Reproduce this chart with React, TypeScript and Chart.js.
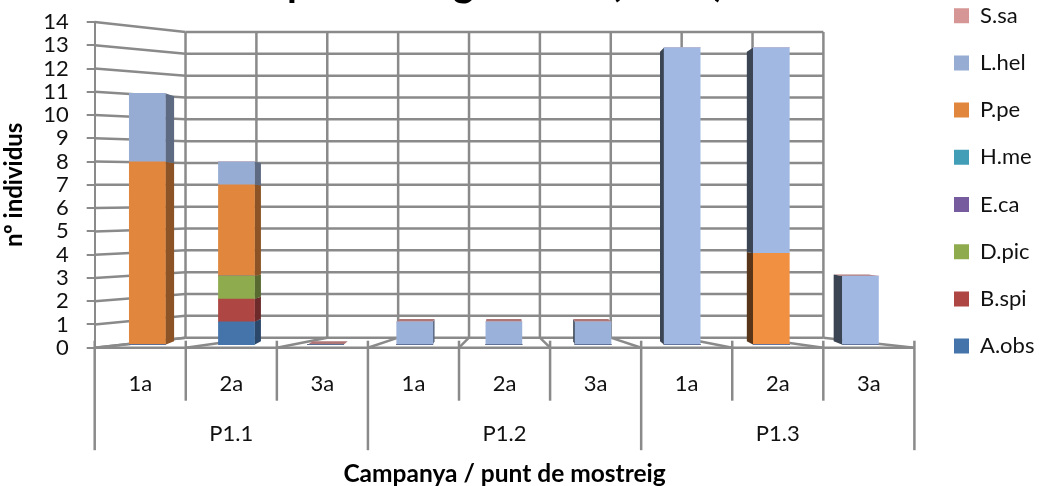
import React, { useEffect, useRef } from "react";
import { Chart, registerables } from "chart.js";

Chart.register(...registerables);

const CAMPAIGNS = ["1a", "2a", "3a", "1a", "2a", "3a", "1a", "2a", "3a"];
const SITES = ["P1.1", "P1.2", "P1.3"];
const SPECIES = ["A.obs", "B.spi", "D.pic", "E.ca", "H.me", "P.pe", "L.hel", "S.sa"];
const A_OBS = [0, 1, 0, 0, 0, 0, 0, 0, 0];
const B_SPI = [0, 1, 0, 0, 0, 0, 0, 0, 0];
const D_PIC = [0, 1, 0, 0, 0, 0, 0, 0, 0];
const E_CA = [0, 0, 0, 0, 0, 0, 0, 0, 0];
const H_ME = [0, 0, 0, 0, 0, 0, 0, 0, 0];
const P_PE = [8, 4, 0, 0, 0, 0, 0, 4, 0];
const L_HEL = [3, 1, 0, 1, 1, 1, 13, 9, 3];
const S_SA = [0, 0, 0, 0, 0, 0, 0, 0, 0];
const SERIES = [A_OBS, B_SPI, D_PIC, E_CA, H_ME, P_PE, L_HEL, S_SA];
const COLORS = ["#4472A8", "#AB4542", "#8BA84C", "#745A9C", "#419BB2", "#DD843C", "#93A9CF", "#D19392"];
const SITE_TINT = [1.02, 1.05, 1.09];

const GRID = "#8A8A8A";
const TEXT = "#111111";
const FONT = "Lato, sans-serif";

// Vanishing point and depth of the oblique projection used for the 3D look.
const VANISH_X = 504;
const VANISH_Y = 209;
const DEPTH = 0.026;

function shade(hex: string, f: number) {
  const n = parseInt(hex.slice(1), 16);
  const c = (v: number) => Math.min(255, Math.round(v * f));
  return `rgb(${c((n >> 16) & 255)},${c((n >> 8) & 255)},${c(n & 255)})`;
}

function project(x: number, y: number): [number, number] {
  return [x + (VANISH_X - x) * DEPTH, y + (VANISH_Y - y) * DEPTH];
}

function poly(ctx: CanvasRenderingContext2D, pts: [number, number][], fill: string) {
  ctx.fillStyle = fill;
  ctx.beginPath();
  pts.forEach(([x, y], i) => (i ? ctx.lineTo(x, y) : ctx.moveTo(x, y)));
  ctx.closePath();
  ctx.fill();
}

function line(ctx: CanvasRenderingContext2D, x1: number, y1: number, x2: number, y2: number) {
  ctx.beginPath();
  ctx.moveTo(x1, y1);
  ctx.lineTo(x2, y2);
  ctx.stroke();
}

const wallsAndDepth = {
  id: "wallsAndDepth",
  afterLayout(chart: any) {
    // The key sits higher and further right than the layout box would place it.
    const legend = chart.legend;
    const pad = legend.options.labels.padding;
    legend.left = 954 - pad;
    legend.right = chart.width;
    legend.top = 15.7 - 11 - pad;
    legend.bottom = chart.height;
    legend.adjustHitBoxes();
  },
  beforeDatasetsDraw(chart: any) {
    const { ctx, scales } = chart;
    const { xFront, xGroup, yFront, xBack, yBack } = scales;
    ctx.save();
    ctx.strokeStyle = GRID;
    ctx.lineWidth = 2.5;

    const y0 = yFront.getPixelForValue(0);
    const backBottom = yBack.getPixelForValue(0);
    const backTop = yBack.getPixelForValue(14);
    const catW = xFront.width / CAMPAIGNS.length;

    for (let v = 0; v <= 14; v++) {
      const yb = yBack.getPixelForValue(v);
      line(ctx, xFront.left, yFront.getPixelForValue(v), xBack.getPixelForValue(0), yb);
      line(ctx, xBack.getPixelForValue(0), yb, xBack.getPixelForValue(CAMPAIGNS.length), yb);
    }
    for (let i = 0; i <= CAMPAIGNS.length; i++) {
      const xb = xBack.getPixelForValue(i);
      const xf = xFront.left + i * catW;
      line(ctx, xb, backTop, xb, backBottom);
      line(ctx, xb, backBottom, xf, y0);
      const end = i % 3 === 0 ? xGroup.top + 49.5 : xFront.bottom;
      line(ctx, xf, y0 - 7, xf, end);
    }
    line(ctx, xFront.left, y0, xFront.right, y0);

    // Receding side faces of each stacked segment.
    chart.data.datasets.forEach((ds: any, d: number) => {
      chart.getDatasetMeta(d).data.forEach((bar: any) => {
        const left = bar.x - bar.width / 2;
        const right = bar.x + bar.width / 2;
        const top = Math.min(bar.y, bar.base);
        const bottom = Math.max(bar.y, bar.base);
        if (bottom - top < 0.5) return;
        let edge: number | null = null;
        let f = 1;
        if (right < VANISH_X) {
          edge = right;
          f = 0.63;
        } else if (left > VANISH_X) {
          edge = left;
          f = 0.4;
        }
        if (edge === null) return;
        poly(
          ctx,
          [[edge, top], project(edge, top), project(edge, bottom), [edge, bottom]],
          shade(COLORS[d], f)
        );
      });
    });

    // Cap of each stack, visible only when it sits below eye level.
    const capMeta = chart.getDatasetMeta(SPECIES.length - 1);
    capMeta.data.forEach((bar: any) => {
      if (bar.y <= VANISH_Y) return;
      const left = bar.x - bar.width / 2;
      const right = bar.x + bar.width / 2;
      poly(
        ctx,
        [[left, bar.y], [right, bar.y], project(right, bar.y), project(left, bar.y)],
        "#AE7676"
      );
    });
    ctx.restore();
  },
};

export default function App() {
  const ref = useRef<HTMLCanvasElement | null>(null);

  useEffect(() => {
    const chart = new Chart(ref.current as HTMLCanvasElement, {
      type: "bar",
      data: {
        labels: CAMPAIGNS,
        datasets: SERIES.map((values, d) => ({
          label: SPECIES[d],
          data: values.map((y, x) => ({ x, y })),
          xAxisID: "xBar",
          yAxisID: "yBar",
          barThickness: 36,
          borderWidth: 0,
          backgroundColor: (c: any) =>
            c.type === "data" ? shade(COLORS[d], SITE_TINT[Math.floor(c.dataIndex / 3)]) : COLORS[d],
        })),
      },
      options: {
        animation: false,
        responsive: false,
        layout: { padding: { right: 10 } },
        plugins: {
          tooltip: { enabled: false },
          title: {
            display: true,
            text: "Opilions al gradient (2011)   ",
            fullSize: false,
            color: "#000",
            font: { family: FONT, size: 40, weight: "bold", lineHeight: 1.2 },
            padding: { top: -41, bottom: 15 },
          },
          legend: {
            position: "right",
            align: "start",
            reverse: true,
            labels: {
              boxWidth: 15,
              boxHeight: 15,
              padding: 25.2,
              color: TEXT,
              font: { family: FONT, size: 22 },
            },
          },
        },
        scales: {
          yFront: {
            type: "linear",
            position: "left",
            min: 0,
            max: 14,
            afterFit: (s: any) => {
              s.width = 94.7;
              s.paddingTop = 0;
              s.paddingBottom = 0;
            },
            ticks: {
              stepSize: 1,
              autoSkip: false,
              padding: 18,
              color: TEXT,
              font: { family: FONT, size: 22 },
            },
            grid: { drawOnChartArea: false, tickLength: 8, color: GRID, lineWidth: 2 },
            border: { color: GRID, width: 2 },
            title: {
              display: true,
              text: "nº individus",
              color: "#000",
              font: { family: FONT, size: 24, weight: "bold" },
              padding: { top: 0, bottom: 12 },
            },
          },
          // Value axis for the bar plane, sitting between the front edge and the back wall.
          yBar: { type: "linear", display: false, stacked: true, min: -0.132, max: 14.12 },
          // Value axis for the back wall.
          yBack: { type: "linear", display: false, min: -0.459, max: 14.459 },
          xFront: {
            type: "category",
            position: "bottom",
            offset: true,
            weight: 1,
            afterFit: (s: any) => {
              s.height = 53;
            },
            ticks: { autoSkip: false, maxRotation: 0, padding: 22.6, color: TEXT, font: { family: FONT, size: 22 } },
            grid: { display: false, drawTicks: false },
            border: { display: false },
          },
          xGroup: {
            type: "category",
            position: "bottom",
            labels: SITES,
            offset: true,
            weight: 2,
            afterFit: (s: any) => {
              s.height = 85.3;
            },
            ticks: { autoSkip: false, maxRotation: 0, padding: 19.6, color: TEXT, font: { family: FONT, size: 22 } },
            grid: { display: false, drawTicks: false },
            border: { display: false },
            title: {
              display: true,
              text: "Campanya / punt de mostreig",
              color: "#000",
              font: { family: FONT, size: 24.5, weight: "bold" },
              padding: { top: 0, bottom: -3 },
            },
          },
          xBar: {
            type: "linear",
            position: "bottom",
            display: false,
            stacked: true,
            offset: false,
            min: -0.59,
            max: 8.605,
            grid: { offset: false },
          },
          xBack: { type: "linear", position: "bottom", display: false, min: -0.3176, max: 9.32 },
        },
      } as any,
      plugins: [wallsAndDepth],
    });
    return () => chart.destroy();
  }, []);

  return (
    <div style={{ position: "absolute", left: 0, top: 0, width: 1040, height: 486, background: "#fff" }}>
      <canvas ref={ref} width={1040} height={486} style={{ display: "block" }} />
    </div>
  );
}
